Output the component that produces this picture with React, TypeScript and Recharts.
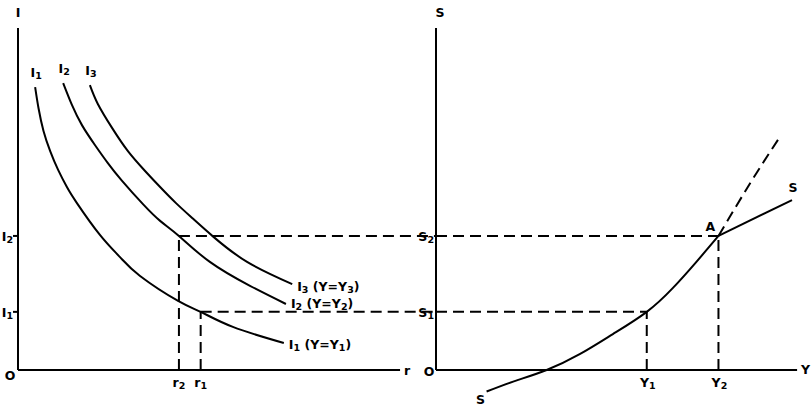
import { LineChart, Line, XAxis, YAxis, ReferenceLine, ReferenceDot } from "recharts";

// shared vertical levels: I1 = S1, I2 = S2
const levels = [1.7, 3.92];
// interest rates r1, r2 and incomes Y1, Y2
const rValues = [4.37, 3.85];
const yValues = [5.79, 7.76];
const axisEnds = { r: 9.14, y: 9.92, top: 10 };

// investment schedules (r, I)
const i1Curve = [
  { r: 0.41, i: 8.27 }, { r: 0.49, i: 7.66 }, { r: 0.61, i: 6.99 }, { r: 0.77, i: 6.4 },
  { r: 0.96, i: 5.85 }, { r: 1.17, i: 5.35 }, { r: 1.41, i: 4.88 }, { r: 1.96, i: 3.95 },
  { r: 2.44, i: 3.3 }, { r: 2.92, i: 2.75 }, { r: 3.83, i: 2.02 }, { r: 4.37, i: 1.7 },
  { r: 5.14, i: 1.26 }, { r: 6.36, i: 0.79 },
];
const i2Curve = [
  { r: 1.08, i: 8.39 }, { r: 1.29, i: 7.75 }, { r: 1.53, i: 7.16 }, { r: 1.84, i: 6.58 },
  { r: 2.15, i: 6.05 }, { r: 2.49, i: 5.53 }, { r: 2.99, i: 4.85 }, { r: 3.4, i: 4.36 },
  { r: 3.85, i: 3.92 }, { r: 4.59, i: 3.16 }, { r: 5.55, i: 2.46 }, { r: 6.41, i: 1.93 },
];
const i3Curve = [
  { r: 1.72, i: 8.33 }, { r: 1.91, i: 7.78 }, { r: 2.25, i: 7.08 }, { r: 2.63, i: 6.4 },
  { r: 3.04, i: 5.82 }, { r: 3.4, i: 5.35 }, { r: 3.78, i: 4.88 }, { r: 4.19, i: 4.42 },
  { r: 4.67, i: 3.9 }, { r: 5.48, i: 3.16 }, { r: 6.56, i: 2.51 },
];
// saving schedule (Y, S)
const sCurve = [
  { y: 1.39, s: -0.63 }, { y: 2.12, s: -0.34 }, { y: 3.04, s: 0 }, { y: 3.96, s: 0.47 },
  { y: 4.86, s: 1.05 }, { y: 5.79, s: 1.7 }, { y: 6.51, s: 2.4 }, { y: 7.16, s: 3.17 },
  { y: 7.76, s: 3.92 },
];
const sUpper = [{ y: 7.76, s: 3.92 }, { y: 9.78, s: 4.97 }];
const sDashed = [{ y: 7.76, s: 3.92 }, { y: 8.63, s: 5.46 }, { y: 9.45, s: 6.82 }];

const curveNames = ["I₁", "I₂", "I₃"];
const curveTags = ["I₁ (Y=Y₁)", "I₂ (Y=Y₂)", "I₃ (Y=Y₃)"];
const subs = ["₁", "₂"];

const W = 812;
const H = 408;
const SPLIT = 436;
const FONT = "'DejaVu Sans', sans-serif";
const DASH = "11 6";
const SUBS = "₀₁₂₃₄₅₆₇₈₉";

// split a label into normal runs and lowered subscript digits
function rich(s: string) {
  const parts: { t: string; sub: boolean }[] = [];
  for (const ch of s) {
    const k = SUBS.indexOf(ch);
    const sub = k >= 0;
    const t = sub ? String(k) : ch;
    const last = parts[parts.length - 1];
    if (last && last.sub === sub && !sub) last.t += t;
    else parts.push({ t, sub });
  }
  let shift = 0;
  return parts.map((p, n) => {
    const target = p.sub ? 3 : 0;
    const dy = target - shift;
    shift = target;
    return (
      <tspan key={n} dy={dy} fontSize={p.sub ? 9.5 : 12.5}>
        {p.t}
      </tspan>
    );
  });
}

function tag(text: string, dx: number, dy: number, anchor = "middle", tick = false) {
  return (p: any) => (
    <g>
      {tick && <line x1={p.cx - 5} y1={p.cy} x2={p.cx} y2={p.cy} stroke="#000" strokeWidth={2} />}
      <text
        x={p.cx + dx}
        y={p.cy + dy}
        textAnchor={anchor}
        dominantBaseline="central"
        fontFamily={FONT}
        fontSize={12.5}
        fontWeight="bold"
        fill="#000"
      >
        {rich(text)}
      </text>
    </g>
  );
}

const lineProps = {
  stroke: "#000",
  strokeWidth: 2,
  dot: false,
  isAnimationActive: false,
  type: "natural" as const,
};

export default function App() {
  const margin = { top: 28, bottom: 3.8 };
  const iCurves = [i1Curve, i2Curve, i3Curve];
  const tagDy = [1, -1, 2];
  return (
    <div style={{ position: "absolute", left: 0, top: 0, width: W, height: H, background: "#fff" }}>
      <div style={{ position: "absolute", left: 0, top: 0 }}>
        <LineChart width={W} height={H} margin={{ ...margin, left: 18, right: W - SPLIT }}>
          <XAxis type="number" dataKey="r" domain={[0, 10]} hide />
          <YAxis type="number" domain={[-1, 10]} hide />
          <ReferenceLine segment={[{ x: 0, y: 0 }, { x: 0, y: axisEnds.top }]} stroke="#000" strokeWidth={2} />
          <ReferenceLine segment={[{ x: 0, y: 0 }, { x: axisEnds.r, y: 0 }]} stroke="#000" strokeWidth={2} />
          {levels.map((lv, k) => (
            <ReferenceLine key={"h" + k} segment={[{ x: rValues[k], y: lv }, { x: 10, y: lv }]} stroke="#000" strokeWidth={2} strokeDasharray={DASH} />
          ))}
          {levels.map((lv, k) => (
            <ReferenceLine key={"v" + k} segment={[{ x: rValues[k], y: 0 }, { x: rValues[k], y: lv }]} stroke="#000" strokeWidth={2} strokeDasharray={DASH} />
          ))}
          {iCurves.map((c, k) => (
            <Line key={"c" + k} data={c} dataKey="i" {...lineProps} />
          ))}
          {iCurves.map((c, k) => (
            <ReferenceDot key={"n" + k} x={c[0].r} y={c[0].i} r={1} ifOverflow="visible" shape={tag(curveNames[k], 1, -15)} />
          ))}
          {iCurves.map((c, k) => (
            <ReferenceDot key={"t" + k} x={c[c.length - 1].r} y={c[c.length - 1].i} r={1} ifOverflow="visible" shape={tag(curveTags[k], 5, tagDy[k], "start")} />
          ))}
          {levels.map((lv, k) => (
            <ReferenceDot key={"il" + k} x={0} y={lv} r={1} ifOverflow="visible" shape={tag(curveNames[k], -5, 0, "end", true)} />
          ))}
          {rValues.map((rv, k) => (
            <ReferenceDot key={"rl" + k} x={rv} y={0} r={1} ifOverflow="visible" shape={tag(`r${subs[k]}`, 0, 12)} />
          ))}
          <ReferenceDot x={0} y={axisEnds.top} r={1} ifOverflow="visible" shape={tag("I", 0, -16)} />
          <ReferenceDot x={0} y={0} r={1} ifOverflow="visible" shape={tag("O", -8, 5)} />
          <ReferenceDot x={axisEnds.r} y={0} r={1} ifOverflow="visible" shape={tag("r", 4, 0, "start")} />
        </LineChart>
      </div>
      <div style={{ position: "absolute", left: 0, top: 0 }}>
        <LineChart width={W} height={H} margin={{ ...margin, left: SPLIT, right: 12 }}>
          <XAxis type="number" dataKey="y" domain={[0, 10]} hide />
          <YAxis type="number" domain={[-1, 10]} hide />
          <ReferenceLine segment={[{ x: 0, y: 0 }, { x: 0, y: axisEnds.top }]} stroke="#000" strokeWidth={2} />
          <ReferenceLine segment={[{ x: 0, y: 0 }, { x: axisEnds.y, y: 0 }]} stroke="#000" strokeWidth={2} />
          {levels.map((lv, k) => (
            <ReferenceLine key={"h" + k} segment={[{ x: 0, y: lv }, { x: yValues[k], y: lv }]} stroke="#000" strokeWidth={2} strokeDasharray={DASH} />
          ))}
          {levels.map((lv, k) => (
            <ReferenceLine key={"v" + k} segment={[{ x: yValues[k], y: 0 }, { x: yValues[k], y: lv }]} stroke="#000" strokeWidth={2} strokeDasharray={DASH} />
          ))}
          <Line data={sCurve} dataKey="s" {...lineProps} />
          <Line data={sUpper} dataKey="s" {...lineProps} type="linear" />
          <Line data={sDashed} dataKey="s" {...lineProps} strokeDasharray={DASH} />
          {levels.map((lv, k) => (
            <ReferenceDot key={"sl" + k} x={0} y={lv} r={1} ifOverflow="visible" shape={tag(`S${subs[k]}`, -2, 0, "end")} />
          ))}
          {yValues.map((yv, k) => (
            <ReferenceDot key={"yl" + k} x={yv} y={0} r={1} ifOverflow="visible" shape={tag(`Y${subs[k]}`, 1, 12)} />
          ))}
          <ReferenceDot x={0} y={axisEnds.top} r={1} ifOverflow="visible" shape={tag("S", 4, -16)} />
          <ReferenceDot x={0} y={0} r={1} ifOverflow="visible" shape={tag("O", -7, 1)} />
          <ReferenceDot x={axisEnds.y} y={0} r={1} ifOverflow="visible" shape={tag("Y", 4, -1, "start")} />
          <ReferenceDot x={yValues[1]} y={levels[1]} r={1} ifOverflow="visible" shape={tag("A", -8, -10)} />
          <ReferenceDot x={sUpper[1].y} y={sUpper[1].s} r={1} ifOverflow="visible" shape={tag("S", 1, -13)} />
          <ReferenceDot x={sCurve[0].y} y={sCurve[0].s} r={1} ifOverflow="visible" shape={tag("S", -6, 7)} />
        </LineChart>
      </div>
    </div>
  );
}
